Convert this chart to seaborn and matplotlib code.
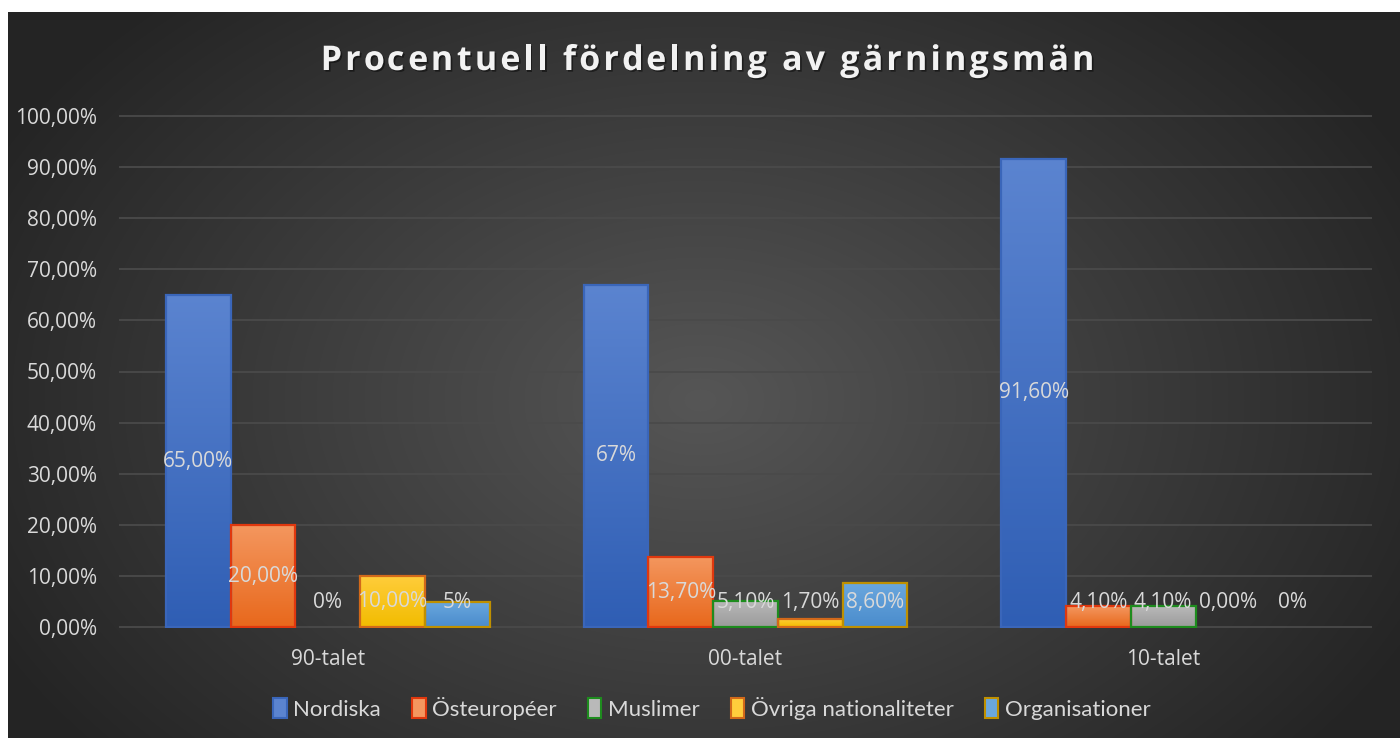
import numpy as np
import pandas as pd
import seaborn as sns
import matplotlib.pyplot as plt
import matplotlib.patheffects as pe
from matplotlib.patches import Patch
from matplotlib.colors import LinearSegmentedColormap

# data
periods = ["90-talet", "00-talet", "10-talet"]
series = ["Nordiska", "Östeuropéer", "Muslimer", "Övriga nationaliteter", "Organisationer"]
nordiska = [65.0, 67.0, 91.6]
osteuropeer = [20.0, 13.7, 4.1]
muslimer = [0.0, 5.1, 4.1]
ovriga = [10.0, 1.7, 0.0]
organisationer = [5.0, 8.6, 0.0]
labels_nordiska = ["65,00%", "67%", "91,60%"]
labels_osteuropeer = ["20,00%", "13,70%", "4,10%"]
labels_muslimer = ["0%", "5,10%", "4,10%"]
labels_ovriga = ["10,00%", "1,70%", "0,00%"]
labels_organisationer = ["5%", "8,60%", "0%"]
yticks = [0, 10, 20, 30, 40, 50, 60, 70, 80, 90, 100]
ytick_labels = ["0,00%", "10,00%", "20,00%", "30,00%", "40,00%", "50,00%",
                "60,00%", "70,00%", "80,00%", "90,00%", "100,00%"]
title = "Procentuell fördelning av gärningsmän"

values = [nordiska, osteuropeer, muslimer, ovriga, organisationer]
value_labels = [labels_nordiska, labels_osteuropeer, labels_muslimer,
                labels_ovriga, labels_organisationer]

# (top, bottom, edge)
colors = {
    "Nordiska": ("#5B84D0", "#2F5EB4", "#3A66BA"),
    "Östeuropéer": ("#F4975F", "#E8681C", "#E0380E"),
    "Muslimer": ("#B9B9B9", "#9B9B9B", "#1E8C1E"),
    "Övriga nationaliteter": ("#FFCD3C", "#F2BC00", "#D2691A"),
    "Organisationer": ("#6AA7DE", "#4A8CCC", "#BF9000"),
}

rows = []
for s, vals in zip(series, values):
    for p, v in zip(periods, vals):
        rows.append({"period": p, "series": s, "value": v})
df = pd.DataFrame(rows)

txt = "#D9D9D9"
W, H = 1400, 738
fig = plt.figure(figsize=(14, 7.38), dpi=100)
fig.patch.set_facecolor("white")

# background with radial gradient
bg = fig.add_axes([8 / W, 0, (W - 8) / W, (H - 12) / H], zorder=0)
xx, yy = np.meshgrid(np.arange(8, W), np.arange(12, H))
d = np.sqrt(((xx - 700) / 800.0) ** 2 + ((yy - 400) / 550.0) ** 2)
g = (0x56 - (0x56 - 0x24) * np.clip(d, 0, 1)) / 255.0
bg.imshow(np.dstack([g, g, g]), aspect="auto", interpolation="bilinear")
bg.axis("off")

ax = fig.add_axes([119 / W, 1 - 628 / H, (1372 - 119) / W, (628 - 115) / H], zorder=1)
ax.patch.set_alpha(0)

sns.barplot(data=df, x="period", y="value", hue="series", order=periods,
            hue_order=series, palette={s: colors[s][1] for s in series},
            width=0.775, gap=0, saturation=1, legend=False, ax=ax, zorder=3)

for i, cont in enumerate(ax.containers):
    top, bot, edge = colors[series[i]]
    cmap = LinearSegmentedColormap.from_list("g", [top, bot])
    for j, bar in enumerate(cont):
        h = bar.get_height()
        x0 = bar.get_x()
        w = bar.get_width()
        if h > 0:
            ax.imshow(np.linspace(0, 1, 256).reshape(-1, 1), extent=(x0, x0 + w, 0, h),
                      origin="upper", aspect="auto", cmap=cmap, zorder=2)
            bar.set_facecolor("none")
            bar.set_edgecolor(edge)
            bar.set_linewidth(1.6)
        else:
            bar.set_linewidth(0)
            bar.set_facecolor("none")
        ax.text(x0 + w / 2, max(h / 2, 4.9), value_labels[i][j], ha="center", va="center",
                color=txt, fontsize=15, family="Open Sans", zorder=5)

ax.set_xlim(-0.5, 2.5)
ax.set_ylim(-0.15, 100.15)
ax.set_yticks(yticks, ytick_labels)
ax.set_xlabel("")
ax.set_ylabel("")
ax.grid(axis="y", color="#4A4A4A", linewidth=1.3, zorder=0)
ax.set_axisbelow(True)
for sp in ax.spines.values():
    sp.set_visible(False)
ax.tick_params(length=0, colors=txt, labelsize=15)
ax.tick_params(axis="y", pad=16)
ax.tick_params(axis="x", pad=15)
for lab in ax.get_xticklabels() + ax.get_yticklabels():
    lab.set_family("Open Sans")

# title with letter spacing
r = fig.canvas.get_renderer()
tprops = dict(fontsize=24.5, fontweight="bold", family="Open Sans")


def text_width(s):
    t = fig.text(0, 0, s, **tprops)
    wd = t.get_window_extent(r).width
    t.remove()
    return wd


spacing = 3.2
x_ref = text_width("x")
starts = [text_width(title[:i] + "x") - x_ref for i in range(len(title))]
total = text_width(title) + spacing * (len(title) - 1)
x_start = 707.5 - total / 2
shadow = [pe.SimplePatchShadow(offset=(1.2, -1.2), shadow_rgbFace="black", alpha=0.45),
          pe.Normal()]
for i, ch in enumerate(title):
    if ch == " ":
        continue
    fig.text((x_start + starts[i] + i * spacing) / W, 1 - 70 / H, ch, ha="left",
             va="baseline", color="#F2F2F2", path_effects=shadow, **tprops)

handles = [Patch(facecolor=colors[s][0], edgecolor=colors[s][2], linewidth=1.5, label=s)
           for s in series]
fig.legend(handles=handles, loc="center", bbox_to_anchor=(712 / W, 1 - 708 / H), ncol=5,
           frameon=False, labelcolor=txt, prop={"family": "Lato", "size": 16},
           handlelength=0.6, handleheight=1.0, handletextpad=0.3, columnspacing=1.4)

plt.savefig("out.png", dpi=100)
